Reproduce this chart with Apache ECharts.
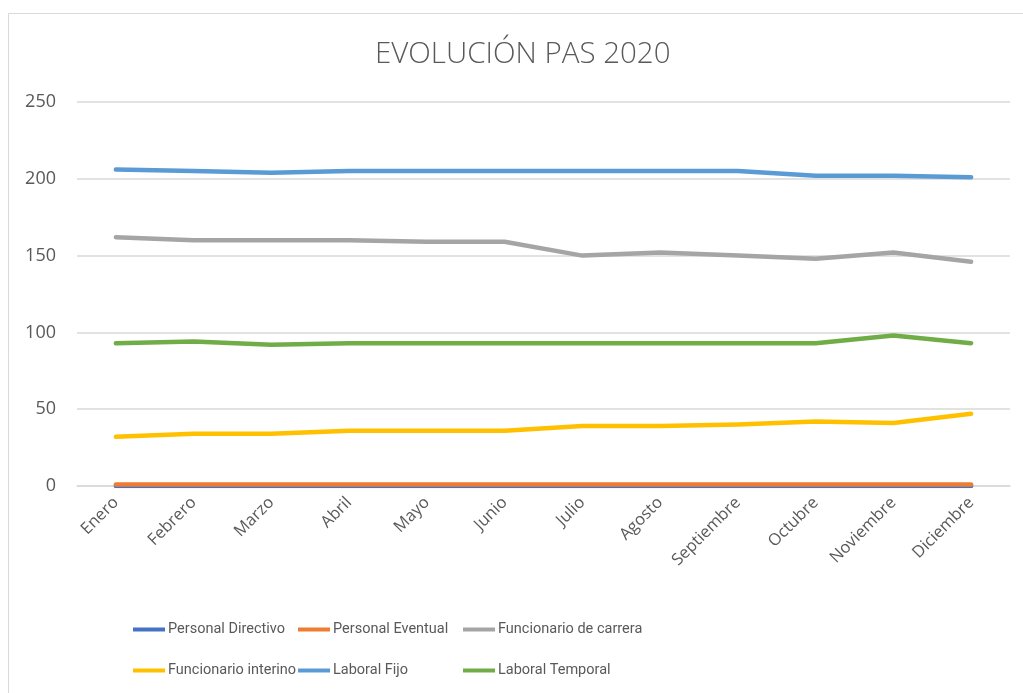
<!DOCTYPE html>
<html lang="es">
<head>
    <meta charset="UTF-8">
    <title>EVOLUCIÓN PAS 2020</title>
    <script src="https://cdn.jsdelivr.net/npm/echarts@6/dist/echarts.min.js"></script>
    <style>
        html, body { margin: 0; padding: 0; background: #fff; }
        #pas { width: 1023px; height: 693px; }
    </style>
</head>
<body>
<div id="pas"></div>
<script type="text/javascript">
    // datos
    var meses = ['Enero', 'Febrero', 'Marzo', 'Abril', 'Mayo', 'Junio', 'Julio', 'Agosto', 'Septiembre', 'Octubre', 'Noviembre', 'Diciembre'];
    var personalDirectivo = [0, 0, 0, 0, 0, 0, 0, 0, 0, 0, 0, 0];
    var personalEventual = [1, 1, 1, 1, 1, 1, 1, 1, 1, 1, 1, 1];
    var funcionarioCarrera = [162, 160, 160, 160, 159, 159, 150, 152, 150, 148, 152, 146];
    var funcionarioInterino = [32, 34, 34, 36, 36, 36, 39, 39, 40, 42, 41, 47];
    var laboralFijo = [206, 205, 204, 205, 205, 205, 205, 205, 205, 202, 202, 201];
    var laboralTemporal = [93, 94, 92, 93, 93, 93, 93, 93, 93, 93, 98, 93];
    var yTicks = [0, 50, 100, 150, 200, 250];

    var fuente = '"Open Sans", "Liberation Sans", sans-serif';
    var fuenteLeyenda = 'Roboto, "Liberation Sans", sans-serif';
    var gris = '#595959';

    function linea(nombre, datos, color) {
        return {
            name: nombre,
            type: 'line',
            data: datos,
            symbol: 'none',
            lineStyle: { width: 4.5, color: color, cap: 'round', join: 'round' },
            itemStyle: { color: color },
            emphasis: { disabled: true }
        };
    }

    // una leyenda por columna para que queden alineadas como en el original
    function leyenda(left, nombres) {
        return {
            orient: 'vertical',
            left: left,
            top: 621,
            padding: 0,
            itemGap: 24,
            itemWidth: 32,
            itemHeight: 4,
            icon: 'rect',
            data: nombres,
            textStyle: { color: gris, fontSize: 14.5, lineHeight: 17, fontFamily: fuenteLeyenda, padding: [0, 0, 0, -2] },
            selectedMode: false
        };
    }

    var pasDom = echarts.init(document.getElementById('pas'));
    var pasOption = {
        animation: false,
        title: {
            text: 'EVOLUCIÓN PAS 2020',
            left: 370,
            top: 35,
            textStyle: { color: gris, fontSize: 29.5, fontWeight: 300, fontFamily: fuente }
        },
        graphic: [{
            type: 'rect',
            shape: { x: 8.5, y: 13.5, width: 1040, height: 700 },
            style: { fill: 'none', stroke: '#d9d9d9', lineWidth: 1 },
            silent: true
        }],
        legend: [
            leyenda(133, ['Personal Directivo', 'Funcionario interino']),
            leyenda(298, ['Personal Eventual', 'Laboral Fijo']),
            leyenda(463, ['Funcionario de carrera', 'Laboral Temporal'])
        ],
        grid: { left: 77, right: 13, top: 102, bottom: 207, containLabel: false },
        xAxis: {
            type: 'category',
            boundaryGap: true,
            data: meses,
            axisLine: { lineStyle: { color: '#d9d9d9', width: 1.5 } },
            axisTick: { show: false },
            axisLabel: { rotate: 45, margin: 14, color: gris, fontSize: 16.5, fontFamily: fuente, interval: 0 }
        },
        yAxis: {
            type: 'value',
            min: yTicks[0],
            max: yTicks[yTicks.length - 1],
            interval: 50,
            axisLine: { show: false },
            axisTick: { show: false },
            axisLabel: { margin: 21, color: gris, fontSize: 18, fontFamily: fuente },
            splitLine: { lineStyle: { color: '#d9d9d9', width: 1.5 } }
        },
        series: [
            linea('Personal Directivo', personalDirectivo, '#4472C4'),
            linea('Personal Eventual', personalEventual, '#ED7D31'),
            linea('Funcionario de carrera', funcionarioCarrera, '#A5A5A5'),
            linea('Funcionario interino', funcionarioInterino, '#FFC000'),
            linea('Laboral Fijo', laboralFijo, '#5B9BD5'),
            linea('Laboral Temporal', laboralTemporal, '#70AD47')
        ]
    };
    pasDom.setOption(pasOption);
</script>
</body>
</html>
